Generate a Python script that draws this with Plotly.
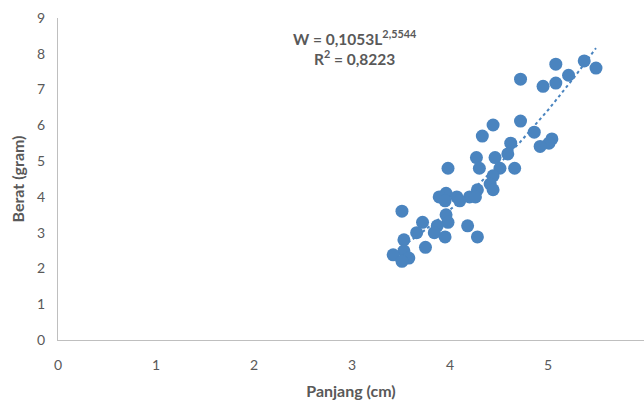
import plotly.graph_objects as go
import numpy as np

# Panjang (cm)
panjang = [4.72, 5.08, 5.37, 5.49, 5.21, 5.08, 4.95, 4.72, 4.44, 4.33,
           4.86, 5.04, 5.01, 4.92, 4.62, 4.59, 4.27, 4.46, 3.98, 4.30,
           4.51, 4.66, 4.44, 4.41, 4.44, 4.28, 4.20, 4.26, 4.07, 4.10,
           3.96, 3.89, 3.95, 3.96, 3.98, 3.87, 3.84, 3.95, 3.72, 3.66,
           3.51, 3.53, 3.75, 3.53, 3.42, 3.58, 3.51, 4.18, 4.28]
# Berat (gram)
berat = [7.29, 7.71, 7.80, 7.60, 7.40, 7.18, 7.09, 6.12, 6.01, 5.70,
         5.81, 5.62, 5.50, 5.41, 5.50, 5.20, 5.10, 5.10, 4.80, 4.80,
         4.80, 4.80, 4.59, 4.36, 4.20, 4.20, 4.00, 4.00, 4.00, 3.89,
         4.10, 4.00, 3.89, 3.50, 3.29, 3.19, 3.00, 2.88, 3.29, 3.00,
         3.60, 2.80, 2.59, 2.49, 2.38, 2.29, 2.20, 3.19, 2.88]

# Power trendline W = a * L^b (from the chart's equation)
coef_a = 0.1053
coef_b = 2.5544
r2_text = "0,8223"

x_ticks = [0, 1, 2, 3, 4, 5, 6]
y_ticks = [0, 1, 2, 3, 4, 5, 6, 7, 8, 9]

blue = "#4A84BF"
gray_text = "#595959"
axis_gray = "#BFBFBF"
font_family = "Lato, 'Open Sans', sans-serif"

W, H = 644, 403
L_M, R_M, T_M, B_M = 58, 0, 18, 63

trend_x = np.linspace(min(panjang), max(panjang), 200)
trend_y = coef_a * trend_x ** coef_b

fig = go.Figure()
fig.add_trace(go.Scatter(
    x=trend_x, y=trend_y, mode="lines",
    line=dict(color=blue, width=2, dash="dot"),
    hoverinfo="skip", showlegend=False))
fig.add_trace(go.Scatter(
    x=panjang, y=berat, mode="markers",
    marker=dict(color=blue, size=13, line=dict(width=0)),
    showlegend=False))

fig.add_annotation(
    xref="paper", yref="paper",
    x=(355 - L_M) / (W - L_M - R_M),
    y=(H - B_M - 48) / (H - B_M - T_M),
    xanchor="center", yanchor="middle",
    text="<b>W = 0,1053L<sup>2,5544</sup></b><br><b>R<sup>2</sup> = " + r2_text + "</b>",
    showarrow=False, font=dict(family=font_family, size=15.5, color=gray_text),
    align="center")

fig.update_layout(
    width=W, height=H,
    margin=dict(l=L_M, r=R_M, t=T_M, b=B_M),
    paper_bgcolor="white", plot_bgcolor="white",
    font=dict(family=font_family, size=14, color=gray_text),
    xaxis=dict(range=[0, 5.98], tickvals=x_ticks, showgrid=False,
               zeroline=False, showline=True, linecolor=axis_gray, linewidth=1,
               ticks="", ticklabelstandoff=12,
               title=dict(text="<b>Panjang (cm)</b>", standoff=14,
                          font=dict(size=16, color=gray_text))),
    yaxis=dict(range=[0, 9], tickvals=y_ticks, showgrid=False,
               zeroline=False, showline=True, linecolor=axis_gray, linewidth=1,
               ticks="", ticklabelstandoff=9,
               title=dict(text="<b>Berat (gram)</b>", standoff=8,
                          font=dict(size=16, color=gray_text))),
)

fig.write_html("out.html",
               config={"displayModeBar": False},
               post_script="document.body.style.margin='0';document.body.style.overflow='hidden';")
